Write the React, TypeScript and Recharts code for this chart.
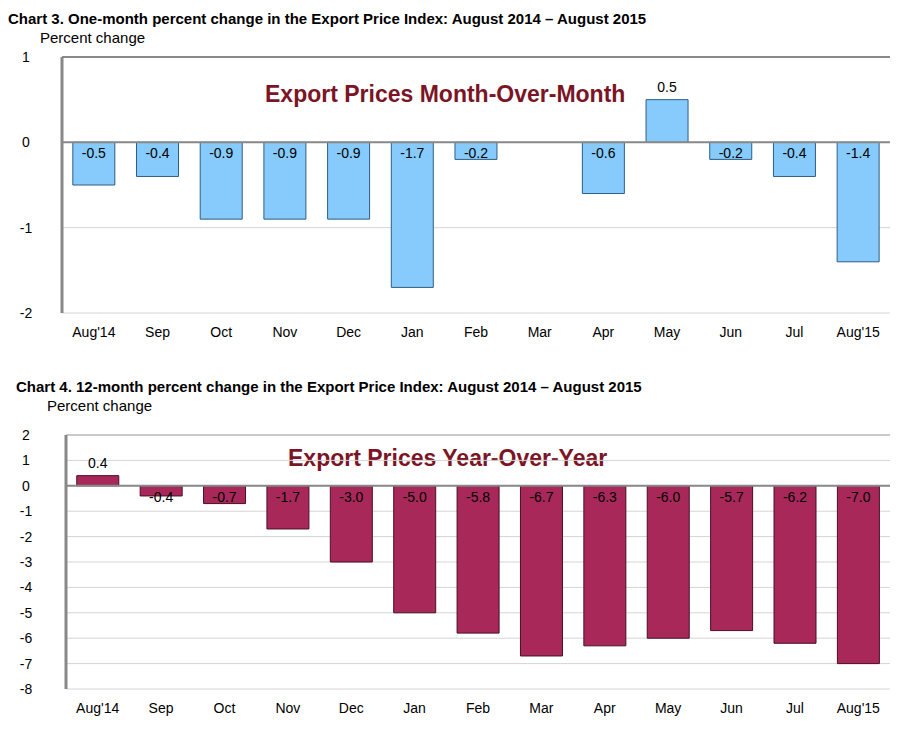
import React from "react";
import { BarChart, Bar, XAxis, YAxis, CartesianGrid, ReferenceLine, LabelList } from "recharts";

const months = ["Aug'14","Sep","Oct","Nov","Dec","Jan","Feb","Mar","Apr","May","Jun","Jul","Aug'15"];
const momValues = [-0.5,-0.4,-0.9,-0.9,-0.9,-1.7,-0.2,0.0,-0.6,0.5,-0.2,-0.4,-1.4];
const yoyValues = [0.4,-0.4,-0.7,-1.7,-3.0,-5.0,-5.8,-6.7,-6.3,-6.0,-5.7,-6.2,-7.0];
const momTicks = [-2,-1,0,1];
const yoyTicks = [-8,-7,-6,-5,-4,-3,-2,-1,0,1,2];

const mom = months.map((m, i) => ({ m, v: momValues[i] }));
const yoy = months.map((m, i) => ({ m, v: yoyValues[i] }));

const font = "Arial, 'Liberation Sans', sans-serif";

const lbl = (props: any) => {
  const { x, y, width, height, value } = props;
  const neg = value < 0;
  const yy = neg ? y + height + 16 : y - 8;
  return (
    <text x={x + width / 2} y={yy} textAnchor="middle" fontSize={14} fill="#000" fontFamily={font}>
      {value.toFixed(1)}
    </text>
  );
};

export default function App() {
  const tick = { fontSize: 14, fill: "#000", fontFamily: font };
  return (
    <div style={{ position: "relative", width: 896, height: 718, fontFamily: font }}>
      <div style={{ position: "absolute", left: 0, top: 2, fontWeight: "bold", fontSize: 15 }}>
        Chart 3. One-month percent change in the Export Price Index: August 2014 – August 2015
      </div>
      <div style={{ position: "absolute", left: 32, top: 21, fontSize: 15 }}>Percent change</div>
      <div style={{ absolute: 1, position: "absolute", left: 257, top: 73, fontWeight: "bold", fontSize: 23, color: "#7B1526" } as any}>
        Export Prices Month-Over-Month
      </div>
      <div style={{ position: "absolute", left: 0, top: 0 }}>
        <BarChart width={896} height={340} data={mom} margin={{ top: 49, right: 14, bottom: 5, left: 0 }} barCategoryGap="17%">
          <CartesianGrid vertical={false} stroke="#d4d4d4" />
          <XAxis dataKey="m" tick={tick} axisLine={false} tickLine={false} height={30} tickMargin={8} />
          <YAxis domain={[-2, 1]} ticks={momTicks} tick={tick} width={54} axisLine={{ stroke: "#888", strokeWidth: 3 }} tickLine={false} tickMargin={30} textAnchor="middle" />
          <ReferenceLine y={1} stroke="#888" strokeWidth={2} />
          <Bar dataKey="v" fill="#87CBFC" stroke="#2E5D84" strokeWidth={1} isAnimationActive={false}>
            <LabelList dataKey="v" content={lbl} />
          </Bar>
          <ReferenceLine y={0} stroke="#888" strokeWidth={2} />
        </BarChart>
      </div>

      <div style={{ position: "absolute", left: 8, top: 370, fontWeight: "bold", fontSize: 15 }}>
        Chart 4. 12-month percent change in the Export Price Index: August 2014 – August 2015
      </div>
      <div style={{ position: "absolute", left: 39, top: 389, fontSize: 15 }}>Percent change</div>
      <div style={{ position: "absolute", left: 280, top: 437, fontWeight: "bold", fontSize: 23, color: "#7B1526" }}>
        Export Prices Year-Over-Year
      </div>
      <div style={{ position: "absolute", left: 0, top: 360 }}>
        <BarChart width={896} height={358} data={yoy} margin={{ top: 67, right: 14, bottom: 7, left: 0 }} barCategoryGap="17%">
          <CartesianGrid vertical={false} stroke="#d4d4d4" />
          <XAxis dataKey="m" tick={tick} axisLine={false} tickLine={false} height={30} tickMargin={8} />
          <YAxis domain={[-8, 2]} ticks={yoyTicks} tick={tick} width={58} axisLine={{ stroke: "#888", strokeWidth: 3 }} tickLine={false} tickMargin={34} textAnchor="middle" />
          <ReferenceLine y={2} stroke="#aaa" strokeWidth={1} />
          <Bar dataKey="v" fill="#A8285A" stroke="#4A0F22" strokeWidth={1} isAnimationActive={false}>
            <LabelList dataKey="v" content={lbl} />
          </Bar>
          <ReferenceLine y={0} stroke="#888" strokeWidth={2} />
        </BarChart>
      </div>
    </div>
  );
}
